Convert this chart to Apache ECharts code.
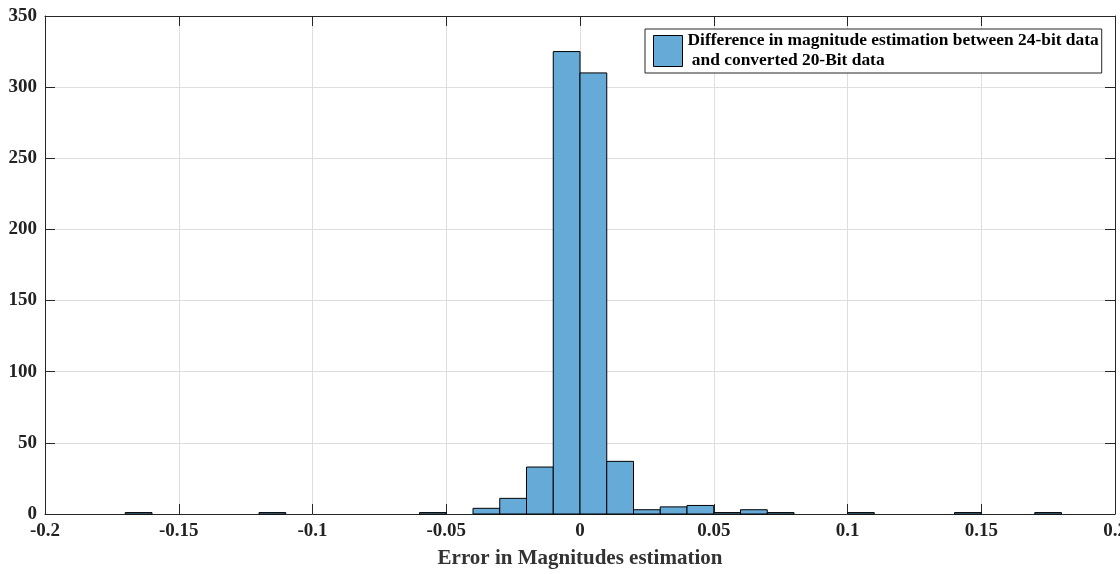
<!DOCTYPE html>
<html>
<head>
<meta charset="utf-8">
<title>Magnitude estimation error histogram</title>
<script src="https://cdn.jsdelivr.net/npm/echarts@6/dist/echarts.min.js"></script>
<style>
  html, body { margin: 0; padding: 0; background: #fff; }
  #chart { width: 1120px; height: 574px; }
</style>
</head>
<body>
<div id="chart"></div>
<script>
// Histogram bins (width 0.01): left edge of each non-empty bin and its count
const binWidth = 0.01;
const binLeft = [-0.17, -0.12, -0.06, -0.04, -0.03, -0.02, -0.01, 0.00, 0.01, 0.02, 0.03, 0.04, 0.05, 0.06, 0.07, 0.10, 0.14, 0.17];
const counts  = [1,     1,     1,     4,     11,    33,    325,   310,  37,   3,    5,    6,    1,    3,    1,    1,    1,    1];

const xTickLabels = ['-0.2', '-0.15', '-0.1', '-0.05', '0', '0.05', '0.1', '0.15', '0.2'];
const yTickLabels = ['0', '50', '100', '150', '200', '250', '300', '350'];

const seriesName = 'Difference in magnitude estimation between 24-bit data\n and converted 20-Bit data';
const xTitle = 'Error in Magnitudes estimation';

const barFill = '#66aad7';
const axisColor = '#262626';
const gridColor = '#dedede';
const serif = '"Liberation Serif", "Times New Roman", serif';

const histData = binLeft.map((x, i) => [x, +(x + binWidth).toFixed(4), counts[i]]);

const chart = echarts.init(document.getElementById('chart'), null, { renderer: 'canvas' });

const tickLabelStyle = { fontFamily: serif, fontWeight: 'bold', fontSize: 19, color: '#222' };

chart.setOption({
  animation: false,
  backgroundColor: '#fff',
  grid: { left: 45, right: 5, top: 16, bottom: 60, containLabel: false, outerBoundsMode: 'none' },
  legend: {
    left: 645,
    top: 29,
    orient: 'vertical',
    padding: [2, 3, 2, 8],
    backgroundColor: '#fff',
    borderColor: axisColor,
    borderWidth: 1,
    itemWidth: 29,
    itemHeight: 31,
    textStyle: { fontFamily: serif, fontWeight: 'bold', fontSize: 17.4, lineHeight: 20, color: '#000' },
    data: [{ name: seriesName, icon: 'rect', itemStyle: { color: barFill, borderColor: '#000', borderWidth: 1 } }]
  },
  xAxis: [
    {
      type: 'value', position: 'bottom', min: -0.2, max: 0.2, interval: 0.05,
      name: xTitle, nameLocation: 'middle', nameGap: 34,
      nameTextStyle: { fontFamily: serif, fontWeight: 'bold', fontSize: 21, color: '#333' },
      axisLine: { show: true, onZero: false, lineStyle: { color: axisColor, width: 1 } },
      axisTick: { show: true, inside: true, length: 10, lineStyle: { color: axisColor } },
      axisLabel: {
        ...tickLabelStyle, margin: 8, showMinLabel: true, showMaxLabel: true,
        formatter: v => xTickLabels[Math.round((v + 0.2) / 0.05)]
      },
      splitLine: { show: true, lineStyle: { color: gridColor, width: 1 } }
    },
    {
      type: 'value', position: 'top', min: -0.2, max: 0.2, interval: 0.05,
      axisLine: { show: true, onZero: false, lineStyle: { color: axisColor, width: 1 } },
      axisTick: { show: true, inside: true, length: 10, lineStyle: { color: axisColor } },
      axisLabel: { show: false },
      splitLine: { show: false }
    }
  ],
  yAxis: [
    {
      type: 'value', position: 'left', min: 0, max: 350, interval: 50,
      axisLine: { show: true, onZero: false, lineStyle: { color: axisColor, width: 1 } },
      axisTick: { show: true, inside: true, length: 10, lineStyle: { color: axisColor } },
      axisLabel: { ...tickLabelStyle, margin: 8, formatter: v => yTickLabels[Math.round(v / 50)] },
      splitLine: { show: true, lineStyle: { color: gridColor, width: 1 } }
    },
    {
      type: 'value', position: 'right', min: 0, max: 350, interval: 50,
      axisLine: { show: true, onZero: false, lineStyle: { color: axisColor, width: 1 } },
      axisTick: { show: true, inside: true, length: 10, lineStyle: { color: axisColor } },
      axisLabel: { show: false },
      splitLine: { show: false }
    }
  ],
  series: [
    {
      name: seriesName,
      type: 'custom',
      xAxisIndex: 0,
      yAxisIndex: 0,
      itemStyle: { color: barFill, borderColor: '#000', borderWidth: 1 },
      encode: { x: [0, 1], y: 2 },
      data: histData,
      renderItem: function (params, api) {
        const topLeft = api.coord([api.value(0), api.value(2)]);
        const bottomRight = api.coord([api.value(1), 0]);
        return {
          type: 'rect',
          shape: {
            x: topLeft[0],
            y: topLeft[1],
            width: bottomRight[0] - topLeft[0],
            height: bottomRight[1] - topLeft[1]
          },
          style: { fill: barFill, stroke: '#000', lineWidth: 1 }
        };
      }
    }
  ]
});
</script>
</body>
</html>
